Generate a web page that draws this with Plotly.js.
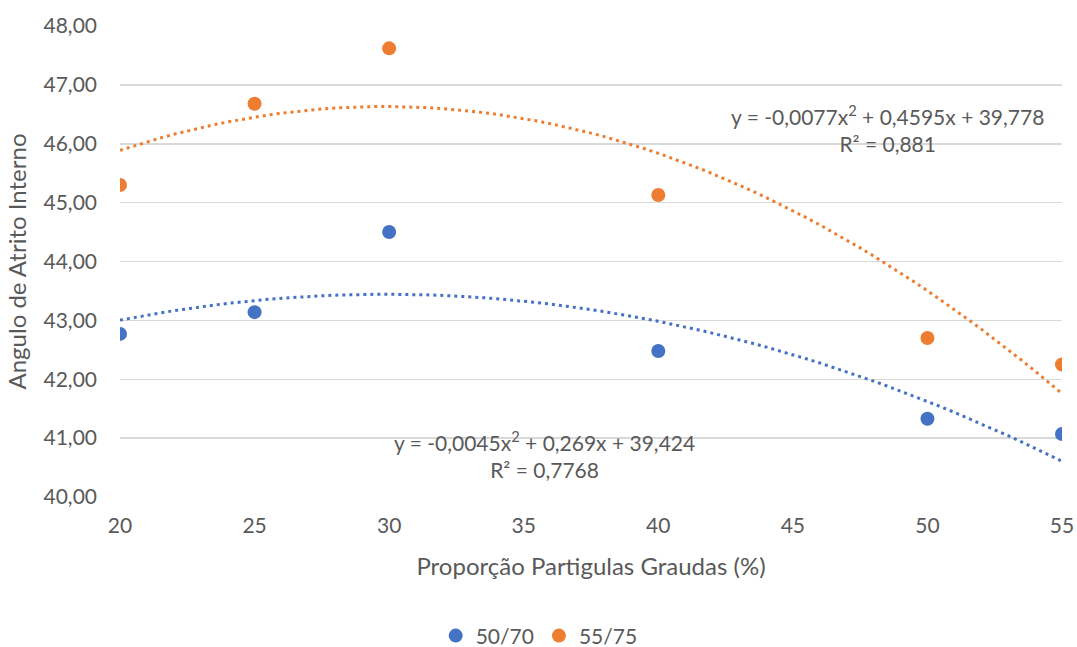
<!DOCTYPE html>
<html>
<head>
<meta charset="utf-8">
<script src="https://cdn.plot.ly/plotly-3.0.1.min.js"></script>
<style>html,body{margin:0;padding:0;background:#fff;}#chart{width:1077px;height:647px;}</style>
</head>
<body>
<div id="chart"></div>
<script>
// Data
const proportion = [20, 25, 30, 40, 50, 55];
const series5070 = [42.77, 43.14, 44.50, 42.48, 41.33, 41.07];
const series5575 = [45.30, 46.68, 47.62, 45.13, 42.70, 42.25];
// Polynomial trendline coefficients as printed on the chart (a x^2 + b x + c)
const trend5070 = [-0.0045, 0.269, 39.424];
const trend5575 = [-0.0077, 0.4595, 39.778];
const yTicks = [40, 41, 42, 43, 44, 45, 46, 47, 48];
const xTicks = [20, 25, 30, 35, 40, 45, 50, 55];

const blue = '#4472C4', orange = '#ED7D31', txt = '#595959';
const FONT = 'Lato, "Open Sans", sans-serif';

function trendCurve(coef) {
  const xs = [], ys = [];
  for (let x = proportion[0]; x <= proportion[proportion.length - 1] + 1e-9; x += 0.5) {
    xs.push(x);
    ys.push(coef[0] * x * x + coef[1] * x + coef[2]);
  }
  return {xs, ys};
}
const t1 = trendCurve(trend5070), t2 = trendCurve(trend5575);

const traces = [
  {x: t1.xs, y: t1.ys, mode: 'lines', line: {color: blue, width: 3, dash: '3px,4px'}, showlegend: false, hoverinfo: 'skip'},
  {x: t2.xs, y: t2.ys, mode: 'lines', line: {color: orange, width: 3, dash: '3px,4px'}, showlegend: false, hoverinfo: 'skip'},
  {x: proportion, y: series5070, mode: 'markers', name: '50/70', marker: {color: blue, size: 14}},
  {x: proportion, y: series5575, mode: 'markers', name: '55/75', marker: {color: orange, size: 14}}
];

const fmt = v => v.toFixed(2).replace('.', ',');

const layout = {
  width: 1077, height: 647,
  margin: {l: 120, r: 15, t: 26, b: 150, autoexpand: false},
  paper_bgcolor: '#fff', plot_bgcolor: '#fff',
  font: {family: FONT, size: 21, color: txt},
  xaxis: {
    range: [20, 55], tickvals: xTicks, ticktext: xTicks.map(String),
    showgrid: false, zeroline: false, showline: false, automargin: false,
    ticks: '', ticklabelstandoff: 14,
    tickfont: {size: 21, color: txt},
    title: {text: 'Proporção Partigulas Graudas (%)', font: {size: 24, color: txt}, standoff: 22}
  },
  yaxis: {
    range: [40, 48], tickvals: yTicks, ticktext: yTicks.map(fmt),
    showgrid: true, gridcolor: '#d9d9d9', gridwidth: 1.5, zeroline: false, showline: false, automargin: false,
    ticks: '', ticklabelstandoff: 22,
    tickfont: {size: 21, color: txt},
    title: {text: 'Angulo de Atrito Interno', font: {size: 24, color: txt}, standoff: 10}
  },
  showlegend: true,
  legend: {orientation: 'h', x: 0.445, xanchor: 'center', y: -0.295, yanchor: 'middle',
           yref: 'paper', font: {size: 21, color: txt}, itemwidth: 30, tracegroupgap: 0},
  annotations: [
    {xref: 'paper', yref: 'paper', x: 0.815, y: 0.783, xanchor: 'center', yanchor: 'middle',
     showarrow: false, align: 'center',
     text: 'y = -0,0077x<sup>2</sup> + 0,4595x + 39,778<br>R² = 0,881', font: {size: 21, color: txt}},
    {xref: 'paper', yref: 'paper', x: 0.451, y: 0.091, xanchor: 'center', yanchor: 'middle',
     showarrow: false, align: 'center',
     text: 'y = -0,0045x<sup>2</sup> + 0,269x + 39,424<br>R² = 0,7768', font: {size: 21, color: txt}}
  ]
};

Plotly.newPlot('chart', traces, layout, {displayModeBar: false, staticPlot: true});
</script>
</body>
</html>
